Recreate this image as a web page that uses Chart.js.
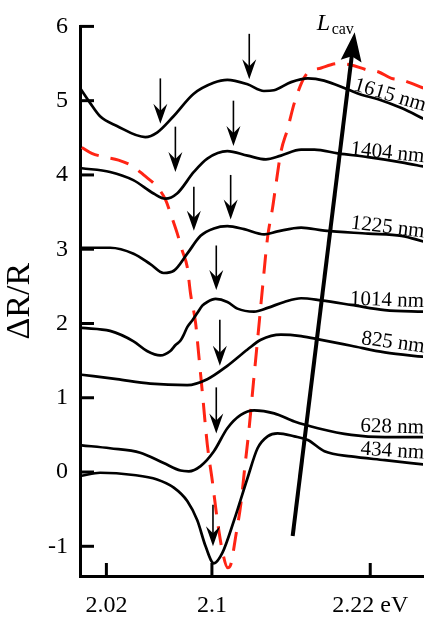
<!DOCTYPE html>
<html>
<head>
<meta charset="utf-8">
<script src="https://cdn.jsdelivr.net/npm/chart.js@4.4.1/dist/chart.umd.min.js"></script>
<style>
  html, body { margin: 0; padding: 0; background: #fff; }
  #wrap { width: 425px; height: 618px; }
</style>
</head>
<body>
<div id="wrap"><canvas id="c" width="425" height="618"></canvas></div>
<script>
// Photon energy (eV) and ΔR/R for each cavity length, offset vertically.
const e1615 = [2.0000, 2.0076, 2.0152, 2.0280, 2.0495, 2.0584, 2.0709, 2.0860, 2.1013, 2.1117, 2.1270, 2.1394, 2.1470, 2.1600, 2.1727, 2.1850, 2.2031, 2.2133, 2.2260, 2.2437, 2.2612];
const r1615 = [5.17, 4.97, 4.79, 4.66, 4.51, 4.57, 4.79, 5.09, 5.24, 5.28, 5.22, 5.13, 5.14, 5.25, 5.30, 5.27, 5.15, 5.08, 5.02, 4.90, 4.75];

const e1404 = [2.0013, 2.0228, 2.0404, 2.0558, 2.0647, 2.0736, 2.0863, 2.0965, 2.1117, 2.1270, 2.1409, 2.1523, 2.1676, 2.1777, 2.1955, 2.2184, 2.2437, 2.2612];
const r1404 = [4.09, 4.04, 3.93, 3.75, 3.68, 3.75, 4.04, 4.22, 4.32, 4.26, 4.21, 4.26, 4.34, 4.34, 4.29, 4.24, 4.17, 4.11];

const e1225 = [2.0013, 2.0228, 2.0406, 2.0533, 2.0634, 2.0711, 2.0813, 2.0914, 2.1015, 2.1117, 2.1244, 2.1396, 2.1498, 2.1676, 2.1853, 2.2184, 2.2437, 2.2612];
const r1225 = [3.02, 3.02, 2.94, 2.80, 2.68, 2.71, 2.94, 3.18, 3.28, 3.31, 3.27, 3.20, 3.24, 3.29, 3.25, 3.21, 3.18, 3.10];

const e1014 = [2.0013, 2.0228, 2.0406, 2.0508, 2.0609, 2.0685, 2.0724, 2.0762, 2.0787, 2.0813, 2.0851, 2.0889, 2.0927, 2.0965, 2.1028, 2.1117, 2.1193, 2.1320, 2.1422, 2.1548, 2.1676, 2.1828, 2.2056, 2.2310, 2.2612];
const r1014 = [1.94, 1.90, 1.76, 1.63, 1.57, 1.63, 1.71, 1.77, 1.85, 1.95, 2.04, 2.14, 2.24, 2.29, 2.33, 2.29, 2.20, 2.16, 2.21, 2.29, 2.34, 2.31, 2.25, 2.18, 2.16];

const e825 = [2.0013, 2.0280, 2.0533, 2.0813, 2.0965, 2.1117, 2.1270, 2.1371, 2.1523, 2.1676, 2.1828, 2.2056, 2.2310, 2.2612];
const r825 = [1.31, 1.25, 1.19, 1.17, 1.25, 1.43, 1.65, 1.78, 1.85, 1.83, 1.78, 1.70, 1.61, 1.55];

const e628 = [2.0013, 2.0228, 2.0457, 2.0634, 2.0762, 2.0825, 2.0914, 2.1015, 2.1117, 2.1219, 2.1320, 2.1472, 2.1625, 2.1803, 2.2056, 2.2310, 2.2612];
const r628 = [0.36, 0.32, 0.26, 0.12, 0.02, 0.01, 0.08, 0.28, 0.59, 0.77, 0.83, 0.79, 0.68, 0.59, 0.50, 0.47, 0.47];

const e434 = [2.0013, 2.0152, 2.0406, 2.0584, 2.0711, 2.0813, 2.0889, 2.0952, 2.1015, 2.1079, 2.1168, 2.1270, 2.1346, 2.1422, 2.1498, 2.1625, 2.1727, 2.1853, 2.2056, 2.2310, 2.2612];
const r434 = [-0.05, -0.01, -0.04, -0.10, -0.21, -0.39, -0.65, -1.00, -1.23, -1.09, -0.65, -0.08, 0.32, 0.48, 0.52, 0.48, 0.43, 0.28, 0.21, 0.16, 0.10];

// Dashed trace of the mode position versus energy.
const eMode = [2.0013, 2.0089, 2.0190, 2.0292, 2.0406, 2.0482, 2.0584, 2.0647, 2.0698, 2.0736, 2.0775, 2.0813, 2.0838, 2.0876, 2.0901, 2.0927, 2.0965, 2.1003, 2.1041, 2.1081, 2.1120, 2.1142, 2.1180, 2.1219, 2.1249, 2.1282, 2.1315, 2.1346, 2.1384, 2.1422, 2.1460, 2.1485, 2.1523, 2.1574, 2.1625, 2.1714, 2.1828, 2.1955, 2.2056, 2.2184, 2.2260, 2.2361, 2.2437, 2.2602];
const rMode = [4.37, 4.29, 4.24, 4.20, 4.11, 4.00, 3.84, 3.67, 3.42, 3.22, 2.98, 2.76, 2.40, 2.01, 1.56, 1.08, 0.37, -0.12, -0.65, -1.08, -1.29, -1.25, -0.87, -0.43, 0.06, 0.59, 1.21, 1.78, 2.49, 3.16, 3.56, 3.87, 4.31, 4.62, 4.97, 5.35, 5.44, 5.50, 5.48, 5.41, 5.39, 5.30, 5.28, 5.17];

const curveLabels = ['1615 nm', '1404 nm', '1225 nm', '1014 nm', '825 nm', '628 nm', '434 nm'];

// Resonance markers: energy, arrow top and arrow tip (ΔR/R units).
const arrowE   = [2.0609, 2.1283, 2.0723, 2.1163, 2.0863, 2.1142, 2.1033, 2.1060, 2.1033, 2.1008];
const arrowTop = [5.30, 5.90, 4.65, 5.00, 3.84, 4.00, 3.05, 2.05, 1.14, -0.44];
const arrowTip = [4.69, 5.29, 4.04, 4.39, 3.25, 3.40, 2.45, 1.43, 0.52, -1.00];

// Axis ticks.
const xTickValues = [2.02, 2.1, 2.22];
const xTickLabels = ['2.02', '2.1', '2.22 eV'];
const yTickValues = [-1, 0, 1, 2, 3, 4, 5, 6];

// Layout of the curve labels (right end of baseline, tilt in degrees).
const labelY = [4.86, 4.17, 3.16, 2.22, 1.61, 0.52, 0.18];
const labelTilt = [16.5, 6, 6.8, 2, 7.7, 1.5, 3.7];
const cavStart = { x: 2.1612, y: -0.86 };
const cavEnd = { x: 2.2082, y: 5.92 };

const SERIF = '"Liberation Serif", "Times New Roman", serif';

function pts(xs, ys) { return xs.map((x, i) => ({ x: x, y: ys[i] })); }
function curve(xs, ys) {
  return { data: pts(xs, ys), borderColor: '#000', borderWidth: 2.7, pointRadius: 0, cubicInterpolationMode: 'monotone', fill: false };
}

function arrowHead(ctx, tx, ty, ux, uy, len, half, notch) {
  // u = unit vector pointing along the arrow direction
  const px = -uy, py = ux;
  const bx = tx - ux * len, by = ty - uy * len;
  ctx.beginPath();
  ctx.moveTo(tx, ty);
  ctx.lineTo(bx + px * half, by + py * half);
  ctx.lineTo(tx - ux * (len - notch), ty - uy * (len - notch));
  ctx.lineTo(bx - px * half, by - py * half);
  ctx.closePath();
  ctx.fill();
}

const decorations = {
  id: 'decorations',
  afterDatasetsDraw(chart) {
    const ctx = chart.ctx;
    const xs = chart.scales.x, ys = chart.scales.y;
    const area = chart.chartArea;
    ctx.save();
    ctx.strokeStyle = '#000';
    ctx.fillStyle = '#000';

    // inward tick marks
    ctx.lineWidth = 3;
    ctx.lineCap = 'butt';
    yTickValues.forEach(v => {
      const py = ys.getPixelForValue(v);
      ctx.beginPath(); ctx.moveTo(area.left, py); ctx.lineTo(area.left + 14, py); ctx.stroke();
    });
    xTickValues.forEach(v => {
      const px = xs.getPixelForValue(v);
      ctx.beginPath(); ctx.moveTo(px, area.bottom); ctx.lineTo(px, area.bottom - 13); ctx.stroke();
    });

    // resonance arrows
    ctx.lineWidth = 1.6;
    arrowE.forEach((e, i) => {
      const px = xs.getPixelForValue(e);
      const pTop = ys.getPixelForValue(arrowTop[i]);
      const pTip = ys.getPixelForValue(arrowTip[i]);
      ctx.beginPath(); ctx.moveTo(px, pTop); ctx.lineTo(px, pTip - 10); ctx.stroke();
      arrowHead(ctx, px, pTip, 0, 1, 20, 7, 7);
    });

    // cavity length arrow
    const sx = xs.getPixelForValue(cavStart.x), sy = ys.getPixelForValue(cavStart.y);
    const tx = xs.getPixelForValue(cavEnd.x), ty = ys.getPixelForValue(cavEnd.y);
    const L = Math.hypot(tx - sx, ty - sy);
    const ux = (tx - sx) / L, uy = (ty - sy) / L;
    ctx.lineWidth = 4;
    ctx.beginPath(); ctx.moveTo(sx, sy); ctx.lineTo(tx - ux * 20, ty - uy * 20); ctx.stroke();
    arrowHead(ctx, tx, ty, ux, uy, 29, 10.5, 5);

    ctx.textBaseline = 'alphabetic';
    ctx.textAlign = 'left';
    ctx.font = 'italic 24px ' + SERIF;
    ctx.fillText('L', tx - 38, ty - 2);
    ctx.font = '16px ' + SERIF;
    ctx.fillText('cav', tx - 23, ty + 2);

    // curve labels
    ctx.font = '21px ' + SERIF;
    ctx.textAlign = 'right';
    const rx = xs.getPixelForValue(2.2606);
    curveLabels.forEach((t, i) => {
      ctx.save();
      ctx.translate(rx, ys.getPixelForValue(labelY[i]));
      ctx.rotate(labelTilt[i] * Math.PI / 180);
      ctx.fillText(t, 0, 0);
      ctx.restore();
    });
    ctx.restore();
  }
};

new Chart(document.getElementById('c'), {
  type: 'line',
  data: {
    datasets: [
      curve(e1615, r1615),
      curve(e1404, r1404),
      curve(e1225, r1225),
      curve(e1014, r1014),
      curve(e825, r825),
      curve(e628, r628),
      curve(e434, r434),
      { data: pts(eMode, rMode), borderColor: '#ff2414', borderWidth: 3, borderDash: [19, 12], pointRadius: 0, cubicInterpolationMode: 'monotone', fill: false }
    ]
  },
  options: {
    responsive: false,
    animation: false,
    devicePixelRatio: 1,
    events: [],
    layout: { padding: { top: 19, right: 2, left: 0, bottom: 0 } },
    plugins: { legend: { display: false }, tooltip: { enabled: false } },
    scales: {
      x: {
        type: 'linear', min: 2.0, max: 2.26,
        afterBuildTicks: s => { s.ticks = xTickValues.map(v => ({ value: v })); },
        afterFit: s => { s.height = 42; },
        ticks: {
          color: '#000', padding: 15, maxRotation: 0, autoSkip: false,
          font: { family: SERIF, size: 24 },
          callback: v => xTickLabels[xTickValues.indexOf(v)]
        },
        grid: { display: false, drawTicks: false },
        border: { display: true, color: '#000', width: 3 }
      },
      y: {
        type: 'linear', min: -1.4, max: 6,
        afterBuildTicks: s => { s.ticks = yTickValues.map(v => ({ value: v })); },
        afterFit: s => { s.width = 80; },
        ticks: {
          color: '#000', padding: 12,
          font: { family: SERIF, size: 24 },
          callback: v => String(v)
        },
        title: {
          display: true, text: 'ΔR/R', color: '#000',
          font: { family: SERIF, size: 34 }, padding: { top: 0, bottom: 0 }
        },
        grid: { display: false, drawTicks: false },
        border: { display: true, color: '#000', width: 3 }
      }
    }
  },
  plugins: [decorations]
});
</script>
</body>
</html>
